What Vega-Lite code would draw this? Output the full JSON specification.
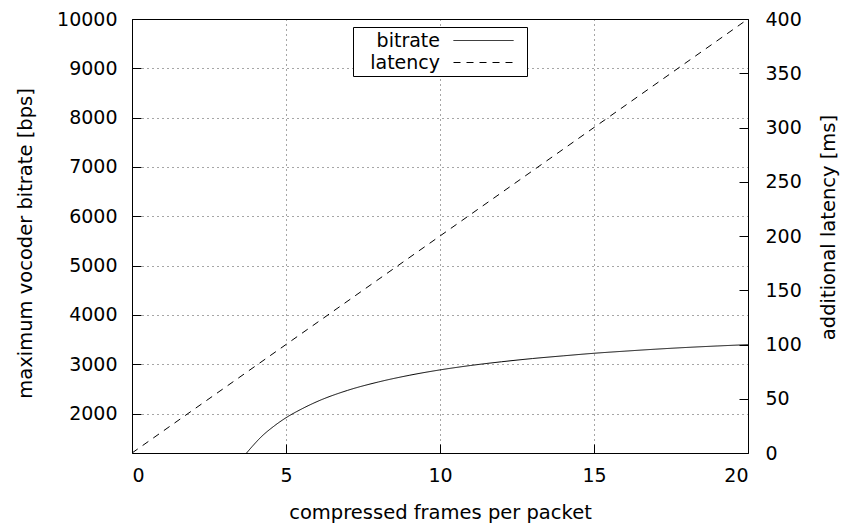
{
  "$schema": "https://vega.github.io/schema/vega-lite/v6.json",
  "autosize": "none",
  "width": 616,
  "height": 434,
  "padding": {"left": 132, "top": 19, "right": 99, "bottom": 75},
  "background": "white",
  "config": {
    "font": "DejaVu Sans",
    "view": {"stroke": "black", "strokeWidth": 1},
    "axis": {
      "labelFont": "DejaVu Sans",
      "titleFont": "DejaVu Sans",
      "labelFontSize": 19,
      "titleFontSize": 19.5,
      "titleFontWeight": "normal",
      "labelColor": "black",
      "titleColor": "black",
      "domain": false,
      "tickColor": "black",
      "tickSize": -9,
      "gridColor": "black",
      "gridOpacity": 0.7,
      "gridDash": [1, 4],
      "gridWidth": 1
    },
    "legend": {
      "labelFont": "DejaVu Sans",
      "labelFontSize": 19,
      "labelColor": "black"
    }
  },
  "datasets": {
    "bitrate": [
      {"frames": 3.72, "bitrate": 1200},
      {"frames": 3.9, "bitrate": 1330},
      {"frames": 4.2, "bitrate": 1530},
      {"frames": 4.6, "bitrate": 1740},
      {"frames": 5, "bitrate": 1915},
      {"frames": 5.5, "bitrate": 2090},
      {"frames": 6, "bitrate": 2240},
      {"frames": 7, "bitrate": 2470},
      {"frames": 8, "bitrate": 2640},
      {"frames": 9, "bitrate": 2775},
      {"frames": 10, "bitrate": 2885},
      {"frames": 11, "bitrate": 2975},
      {"frames": 12, "bitrate": 3050},
      {"frames": 13, "bitrate": 3115},
      {"frames": 14, "bitrate": 3170},
      {"frames": 15, "bitrate": 3222},
      {"frames": 16, "bitrate": 3265},
      {"frames": 17, "bitrate": 3305},
      {"frames": 18, "bitrate": 3340},
      {"frames": 19, "bitrate": 3370},
      {"frames": 20, "bitrate": 3397}
    ],
    "latency": [
      {"frames": 0, "latency": 0},
      {"frames": 20, "latency": 400}
    ]
  },
  "layer": [
    {
      "data": {"name": "bitrate"},
      "mark": {"type": "line", "color": "black", "strokeWidth": 1, "interpolate": "monotone", "clip": true},
      "encoding": {
        "x": {
          "field": "frames", "type": "quantitative",
          "scale": {"domain": [0, 20], "nice": false},
          "axis": {"values": [0, 5, 10, 15, 20], "grid": true, "title": "compressed frames per packet", "labelPadding": 22, "titlePadding": 18}
        },
        "y": {
          "field": "bitrate", "type": "quantitative",
          "scale": {"domain": [1200, 10000], "nice": false, "zero": false},
          "axis": {"values": [2000, 3000, 4000, 5000, 6000, 7000, 8000, 9000, 10000], "format": "d", "grid": true, "title": "maximum vocoder bitrate [bps]", "labelPadding": 24, "titlePadding": 21, "titleY": 224}
        },
        "strokeDash": {
          "datum": "bitrate",
          "type": "nominal",
          "scale": {"domain": ["bitrate", "latency"], "range": [[1, 0], [7, 6]]},
          "legend": {
            "title": null,
            "orient": "none",
            "legendX": 221,
            "legendY": 8,
            "symbolType": "M-3,0H3M3.85,0",
            "symbolSize": 400,
            "symbolStrokeColor": "black",
            "symbolStrokeWidth": 1,
            "strokeColor": "black",
            "fillColor": "white",
            "padding": 3,
            "rowPadding": 1,
            "symbolOffset": 117,
            "labelAlign": "right",
            "labelOffset": -54
          }
        }
      }
    },
    {
      "data": {"name": "latency"},
      "mark": {"type": "line", "color": "black", "strokeWidth": 1, "strokeDash": [7, 6]},
      "encoding": {
        "x": {"field": "frames", "type": "quantitative"},
        "y": {
          "field": "latency", "type": "quantitative",
          "scale": {"domain": [0, 400], "nice": false},
          "axis": {"orient": "right", "values": [0, 50, 100, 150, 200, 250, 300, 350, 400], "grid": false, "title": "additional latency [ms]", "titleAngle": 270, "labelPadding": 26, "titlePadding": 37, "titleY": 208}
        },
        "strokeDash": {"datum": "latency", "type": "nominal"}
      }
    }
  ],
  "resolve": {"scale": {"y": "independent"}}
}
